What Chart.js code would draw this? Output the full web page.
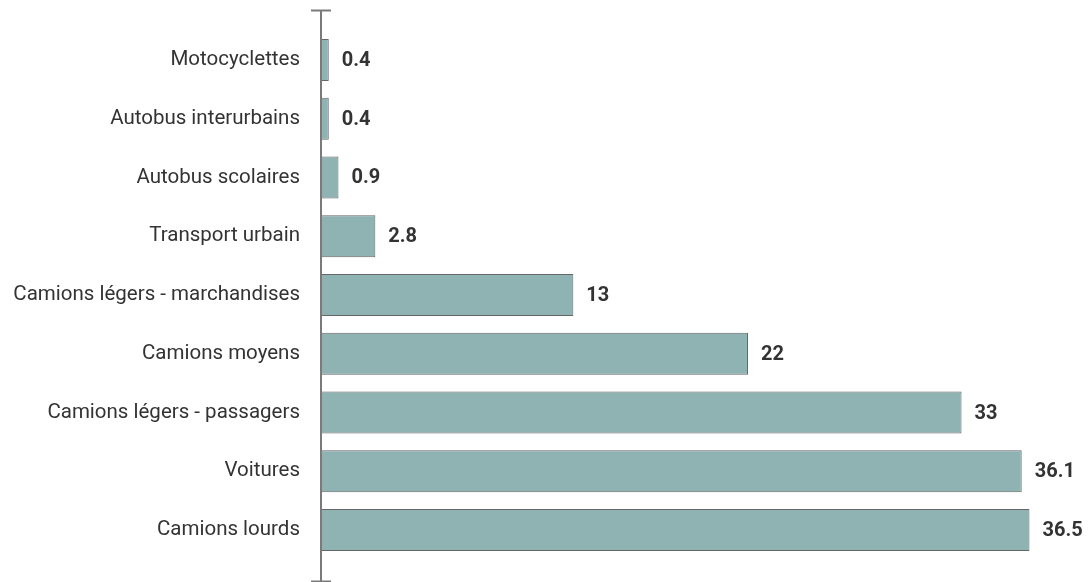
<!DOCTYPE html>
<html><head><meta charset="utf-8">
<script src="https://cdn.jsdelivr.net/npm/chart.js@4"></script>
<style>html,body{margin:0;padding:0;background:#fff;overflow:hidden}canvas{display:block}</style>
</head><body><canvas id="c" width="1088" height="582"></canvas>
<script>
const categories = ["Motocyclettes","Autobus interurbains","Autobus scolaires","Transport urbain","Camions légers - marchandises","Camions moyens","Camions légers - passagers","Voitures","Camions lourds"];
const values = [0.4,0.4,0.9,2.8,13,22,33,36.1,36.5];
const valueLabels = ["0.4","0.4","0.9","2.8","13","22","33","36.1","36.5"];

const axisPlugin = {
  id:'axisCaps',
  afterDraw(chart){
    const ctx=chart.ctx, a=chart.chartArea, x=chart.scales.x.getPixelForValue(0);
    ctx.save();
    ctx.strokeStyle='#7a7a7a'; ctx.lineWidth=2;
    const t=a.top-20, b=a.bottom+22;
    ctx.beginPath(); ctx.moveTo(x,t); ctx.lineTo(x,b);
    ctx.moveTo(x-10,t); ctx.lineTo(x+10,t);
    ctx.moveTo(x-10,b); ctx.lineTo(x+10,b);
    ctx.stroke();
    const meta=chart.getDatasetMeta(0);
    ctx.fillStyle='#333'; ctx.font='bold 20px Roboto'; ctx.textBaseline='middle'; ctx.textAlign='left';
    meta.data.forEach((el,i)=>{ ctx.fillText(valueLabels[i], el.x+13, el.y+1); });
    ctx.restore();
  }
};

new Chart(document.getElementById('c'),{
  type:'bar',
  data:{labels:categories,datasets:[{data:values,backgroundColor:'#8fb2b3',borderColor:'#666666',borderWidth:1,barPercentage:0.715,categoryPercentage:1}]},
  options:{
    indexAxis:'y',responsive:false,animation:false,devicePixelRatio:1,
    layout:{padding:{top:30.5,bottom:22.5,right:10,left:0}},
    plugins:{legend:{display:false},tooltip:{enabled:false}},
    scales:{
      x:{min:0,max:39,display:false},
      y:{grid:{display:false,drawTicks:false},border:{display:false},
         ticks:{padding:21,color:'#333',font:{family:'Roboto',size:20.5}},
         afterFit(s){s.width=321;s.paddingTop=0;s.paddingBottom=0;}}
    }
  },
  plugins:[axisPlugin]
});
</script></body></html>
